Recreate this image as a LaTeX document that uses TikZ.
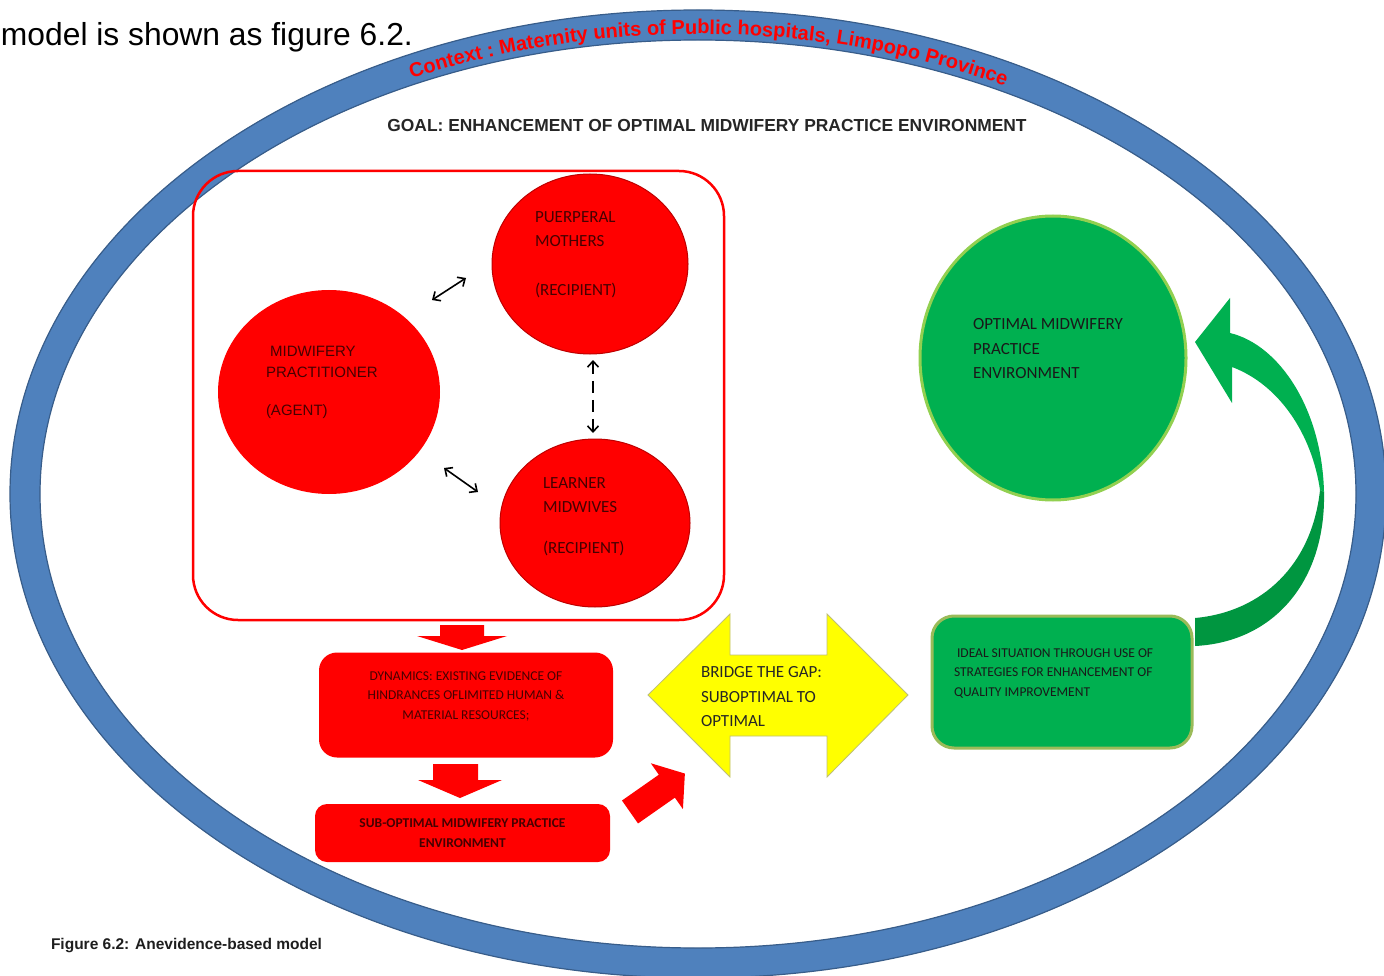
\documentclass[tikz,border=0pt]{standalone}
\usepackage{fontspec}
\setmainfont{Liberation Sans}
\newfontfamily\calibri{Carlito}
\usetikzlibrary{arrows.meta,shapes.geometric,decorations.text}
\newcommand\ctxfont{\fontsize{20}{24}\selectfont\bfseries}
\begin{document}
\begin{tikzpicture}[x=1pt,y=-1pt,every node/.style={inner sep=0pt, outer sep=0pt},
  bigtext/.style={font=\calibri\fontsize{17}{24.5}\selectfont, align=left, anchor=north west},
  smalltext/.style={font=\calibri\fontsize{13.5}{19.5}\selectfont},
  ontored/.style={text={rgb,255:red,70;green,0;blue,0}},
  ontogreen/.style={text={rgb,255:red,25;green,25;blue,25}},
  twoway/.style={<->, >={Straight Barb[length=6pt,width=11pt]}, line width=1.6}]
\useasboundingbox (0,0) rectangle (1384,976);
\fill[white] (0,0) rectangle (1384,976);
\draw[line width=30, color={rgb,255:red,79;green,129;blue,189}] (698,494) ellipse [x radius=673, y radius=469];
\draw[line width=1.2, color={rgb,255:red,56;green,93;blue,138}] (698,494) ellipse [x radius=688, y radius=484] (698,494) ellipse [x radius=658, y radius=454];
\path[decorate, decoration={text along path, text align=center, text color=red,
  text={|\ctxfont|Context : Maternity units of Public hospitals, Limpopo Province}}]
  (698,494) ++(-124:664 and 460) arc[start angle=-124, end angle=-54, x radius=664, y radius=460];
\node[anchor=base west, font=\fontsize{31.8}{36}\selectfont] (intro) at (1,46) {model is shown as figure 6.2.};
\node[font=\fontsize{17.4}{20}\selectfont\bfseries, text={rgb,255:red,38;green,38;blue,38}] (goal) at (707,126) {GOAL: ENHANCEMENT OF OPTIMAL MIDWIFERY PRACTICE ENVIRONMENT};
\node[draw=red, line width=2.5, rounded corners=45, minimum width=531, minimum height=449] (group) at (458.5,395.5) {};
\node[ellipse, fill=red, minimum width=222, minimum height=204] (agent) at (329,392) {};
\node[ellipse, fill=red, draw={rgb,255:red,190;green,0;blue,0}, line width=1, minimum width=196, minimum height=180] (mothers) at (590,264) {};
\node[ellipse, fill=red, draw={rgb,255:red,190;green,0;blue,0}, line width=1, minimum width=190, minimum height=168] (learners) at (595,523) {};
\node[font=\fontsize{15}{21}\selectfont, align=left, anchor=north west, ontored] (agenttext) at (266,346.5) {\ MIDWIFERY\\PRACTITIONER\\[17pt](AGENT)};
\node[bigtext, ontored] (motherstext) at (535,211.5) {PUERPERAL\\MOTHERS\\[24.5pt](RECIPIENT)};
\node[bigtext, ontored] (learnerstext) at (543,477.5) {LEARNER\\MIDWIVES\\[16.5pt](RECIPIENT)};
\coordinate (am1) at (432,300);
\coordinate (am2) at (466,278);
\coordinate (al1) at (444,468);
\coordinate (al2) at (478,492);
\coordinate (ml1) at (593,360);
\coordinate (ml2) at (593,433);
\draw[twoway] (am1) -- (am2);
\draw[twoway] (al1) -- (al2);
\draw[twoway, dash pattern=on 12pt off 7pt] (ml1) -- (ml2);
\fill[red] (440,625) -- (484,625) -- (484,636) -- (507,636) -- (462,650) -- (417,636) -- (440,636) -- cycle;
\node[fill=red, rounded corners=18, minimum width=294, minimum height=105] (dynamics) at (466,705) {};
\node[smalltext, align=center, ontored] (dynamicstext) at (466,696) {DYNAMICS: EXISTING EVIDENCE OF\\HINDRANCES OFLIMITED HUMAN \&\\MATERIAL RESOURCES;};
\fill[red] (433,764) -- (478,764) -- (478,780) -- (502,780) -- (460,798) -- (418,780) -- (433,780) -- cycle;
\node[fill=red, rounded corners=12, minimum width=295, minimum height=58, font=\calibri\fontsize{13.5}{19.5}\selectfont\bfseries, align=center, ontored] (subopt) at (462.5,833) {SUB-OPTIMAL MIDWIFERY PRACTICE\\ENVIRONMENT};
\fill[red, shift={(630,812)}, rotate=35] (0,-14) -- (45,-14) -- (45,-28) -- (67,0) -- (45,28) -- (45,14) -- (0,14) -- cycle;
\filldraw[fill={rgb,255:red,255;green,255;blue,0}, draw={rgb,255:red,190;green,190;blue,120}, line width=0.8] (648,695) -- (730,614) -- (730,655) -- (827,655) -- (827,614) -- (908,695) -- (827,777) -- (827,736) -- (730,736) -- (730,777) -- cycle;
\node[bigtext, text={rgb,255:red,38;green,38;blue,38}] (bridge) at (701,666.5) {BRIDGE THE GAP:\\SUBOPTIMAL TO\\OPTIMAL};
\node[fill={rgb,255:red,0;green,176;blue,80}, draw={rgb,255:red,155;green,187;blue,89}, line width=3, rounded corners=22, minimum width=260, minimum height=132] (ideal) at (1062,682) {};
\node[smalltext, align=left, anchor=north west, ontogreen] (idealtext) at (954,648.5) {\ IDEAL SITUATION THROUGH USE OF\\STRATEGIES FOR ENHANCEMENT OF\\QUALITY IMPROVEMENT};
\node[ellipse, fill={rgb,255:red,0;green,176;blue,80}, draw={rgb,255:red,146;green,208;blue,80}, line width=3, minimum width=266, minimum height=284] (optimal) at (1053,358) {};
\node[bigtext, ontogreen] (optimaltext) at (973,318.5) {OPTIMAL MIDWIFERY\\PRACTICE\\ENVIRONMENT};
\fill[fill={rgb,255:red,0;green,150;blue,64}] (1324,492) .. controls (1326,580) and (1275,642) .. (1195,646) -- (1195,618) .. controls (1262,612) and (1312,565) .. (1320,490) -- cycle;
\fill[fill={rgb,255:red,0;green,176;blue,80}] (1195,342) -- (1230,298) -- (1230,333) .. controls (1280,345) and (1322,410) .. (1324,492) -- (1320,490) .. controls (1312,435) and (1280,385) .. (1232,367) -- (1232,403) -- cycle;
\node[anchor=base west, font=\fontsize{15.5}{18}\selectfont\bfseries, text={rgb,255:red,30;green,30;blue,30}] (caption) at (51,949.5) {Figure 6.2: Anevidence-based model};
\end{tikzpicture}
\end{document}
